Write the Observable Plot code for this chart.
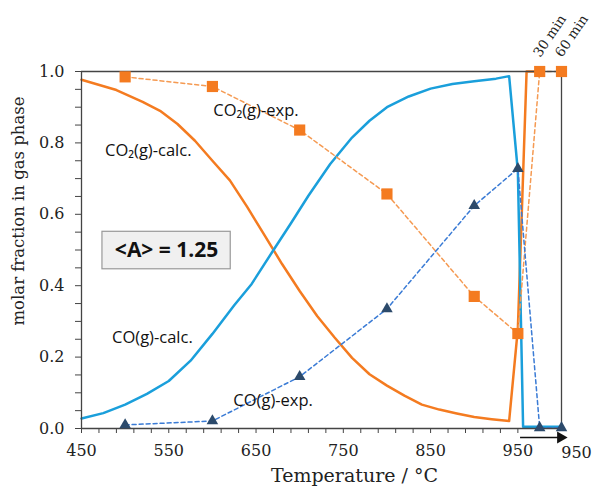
<!DOCTYPE html>
<html><head><meta charset="utf-8">
<script src="https://cdn.jsdelivr.net/npm/d3@7"></script>
<script src="https://cdn.jsdelivr.net/npm/@observablehq/plot@0.6"></script>
<style>body{margin:0;background:#fff}</style>
</head><body><div id="chart"></div>
<script>
// calculated CO2(g)
const co2CalcT = [450,490,520,540,560,580,600,620,640,660,680,700,720,740,760,780,800,820,840,860,880,900,920,940,950,960,975];
const co2CalcV = [0.977,0.948,0.915,0.89,0.853,0.806,0.75,0.695,0.62,0.54,0.46,0.385,0.315,0.255,0.198,0.152,0.12,0.092,0.067,0.053,0.042,0.032,0.026,0.021,0.28,1.0,1.0];
// calculated CO(g)
const coCalcT = [450,475,500,525,550,575,600,625,645,670,690,710,735,760,780,800,825,850,875,900,925,940,950,956,1000];
const coCalcV = [0.028,0.043,0.067,0.097,0.133,0.19,0.265,0.345,0.405,0.5,0.575,0.652,0.741,0.815,0.862,0.9,0.93,0.952,0.965,0.973,0.98,0.987,0.72,0.005,0.005];
// experiments (975 = 30 min, 1000 = 60 min at 950 °C)
const expT = [500,600,700,800,900,950,975,1000];
const co2Exp = [0.985,0.958,0.836,0.657,0.37,0.266,1.0,1.0];
const coExp = [0.01,0.021,0.145,0.335,0.624,0.728,0.002,0.002];
// axis ticks
const xMajor = [450,550,650,750,850,950];
const yMajor = [0,0.2,0.4,0.6,0.8,1.0];
// annotations
const labels = [
  {t:"CO\u2082(g)-calc.", x:477, y:0.777},
  {t:"CO\u2082(g)-exp.", x:601, y:0.89},
  {t:"CO(g)-calc.", x:485, y:0.253},
  {t:"CO(g)-exp.", x:624, y:0.079}
];
const timeLabels = [{t:"30 min", x:975},{t:"60 min", x:1000}];

const co2Calc = co2CalcT.map((t,i)=>({t, v:co2CalcV[i]}));
const coCalc = coCalcT.map((t,i)=>({t, v:coCalcV[i]}));
const exp = expT.map((t,i)=>({t, co2:co2Exp[i], co:coExp[i]}));

const serif = "DejaVu Serif";
const sans = "Open Sans";
const orange = "#F47B20", orangeD = "#F59A52", blue = "#1A9FDB", blueD = "#3A7BD5", tri = "#2C4A6B", axisC = "#444";

const plot = Plot.plot({
  width: 593, height: 493,
  marginLeft: 81, marginRight: 32, marginTop: 71, marginBottom: 65,
  style: {fontFamily: serif, fontSize: "16px", color: "#222", background: "#fff"},
  x: {domain: [450, 1000]},
  y: {domain: [0, 1]},
  marks: [
    // box
    Plot.rect([{x1:474, x2:621, y1:0.446, y2:0.551}], {x1:"x1", x2:"x2", y1:"y1", y2:"y2", fill:"#f0f0f0", stroke:"#999", strokeWidth:1.2}),
    Plot.text(["<A> = 1.25"], {x:[547.5], y:[0.5], text:d=>d, fontFamily: sans, fontWeight:"bold", fontSize:21, fill:"#111"}),
    // calc lines
    Plot.line(co2Calc, {x:"t", y:"v", stroke: orange, strokeWidth: 2.5}),
    Plot.line(coCalc, {x:"t", y:"v", stroke: blue, strokeWidth: 2.5}),
    // exp dashed
    Plot.line(exp, {x:"t", y:"co2", stroke: orangeD, strokeWidth: 1.5, strokeDasharray:"4,3"}),
    Plot.line(exp, {x:"t", y:"co", stroke: blueD, strokeWidth: 1.5, strokeDasharray:"4,3"}),
    // frame
    Plot.ruleY([1], {stroke: axisC, strokeWidth: 1.3}),
    Plot.ruleX([1000], {stroke: axisC, strokeWidth: 1.3}),
    Plot.ruleX([450], {stroke: axisC, strokeWidth: 1.3}),
    Plot.ruleY([0], {stroke: axisC, strokeWidth: 1.3}),
    // markers
    Plot.dot(exp, {x:"t", y:"co2", symbol:"square", r:6.3, fill: orange}),
    Plot.dot(exp, {x:"t", y:"co", symbol:"triangle", r:4.3, fill: tri}),
    // labels
    Plot.text(labels, {x:"x", y:"y", text:"t", textAnchor:"start", fontFamily: sans, fontSize: 16.5, fill:"#111"}),
    Plot.text(timeLabels, {x:"x", y:()=>1, text:"t", textAnchor:"start", rotate:-56, dx:-3, dy:-16, fontFamily: serif, fontSize: 13.5, fill:"#222"}),
    // axes
    Plot.axisX({ticks: d3.range(450, 951, 20), tickSize: 5, tickPadding: 11, stroke: axisC,
      tickFormat: d => xMajor.includes(d) ? String(d) : "", label: null}),
    Plot.text(["950"], {x:[1000], y:[0], text:d=>d, dx:15, dy:24, fontFamily: serif, fontSize: 16, fill:"#222"}),
    Plot.axisY({ticks: d3.range(0, 1.0001, 0.05).map(d=>+d.toFixed(2)), tickSize: 6, tickPadding: 11, stroke: axisC,
      tickFormat: d => yMajor.some(m=>Math.abs(m-d)<1e-6) ? d.toFixed(1) : "", label: null}),
    // arrow below axis
    Plot.link([{x1:952.5, x2:997}], {x1:"x1", x2:"x2", y1:()=>0, y2:()=>0, dy:9, stroke:"#111", strokeWidth:1.5}),
    Plot.dot([{x:999}], {x:"x", y:()=>0, dy:9, symbol:"triangle", rotate:90, r:4.5, fill:"#111"}),
    // axis titles
    Plot.text(["molar fraction in gas phase"], {frameAnchor:"left", textAnchor:"middle", rotate:-90, dx:-63, dy:-39, fontFamily: serif, fontSize: 16.5, fill:"#222", text:d=>d}),
    Plot.text(["Temperature / \u00B0C"], {frameAnchor:"bottom", dx:33, dy:53, fontFamily: serif, fontSize: 19, fill:"#222", text:d=>d})
  ]
});
document.getElementById("chart").appendChild(plot);
</script></body></html>
